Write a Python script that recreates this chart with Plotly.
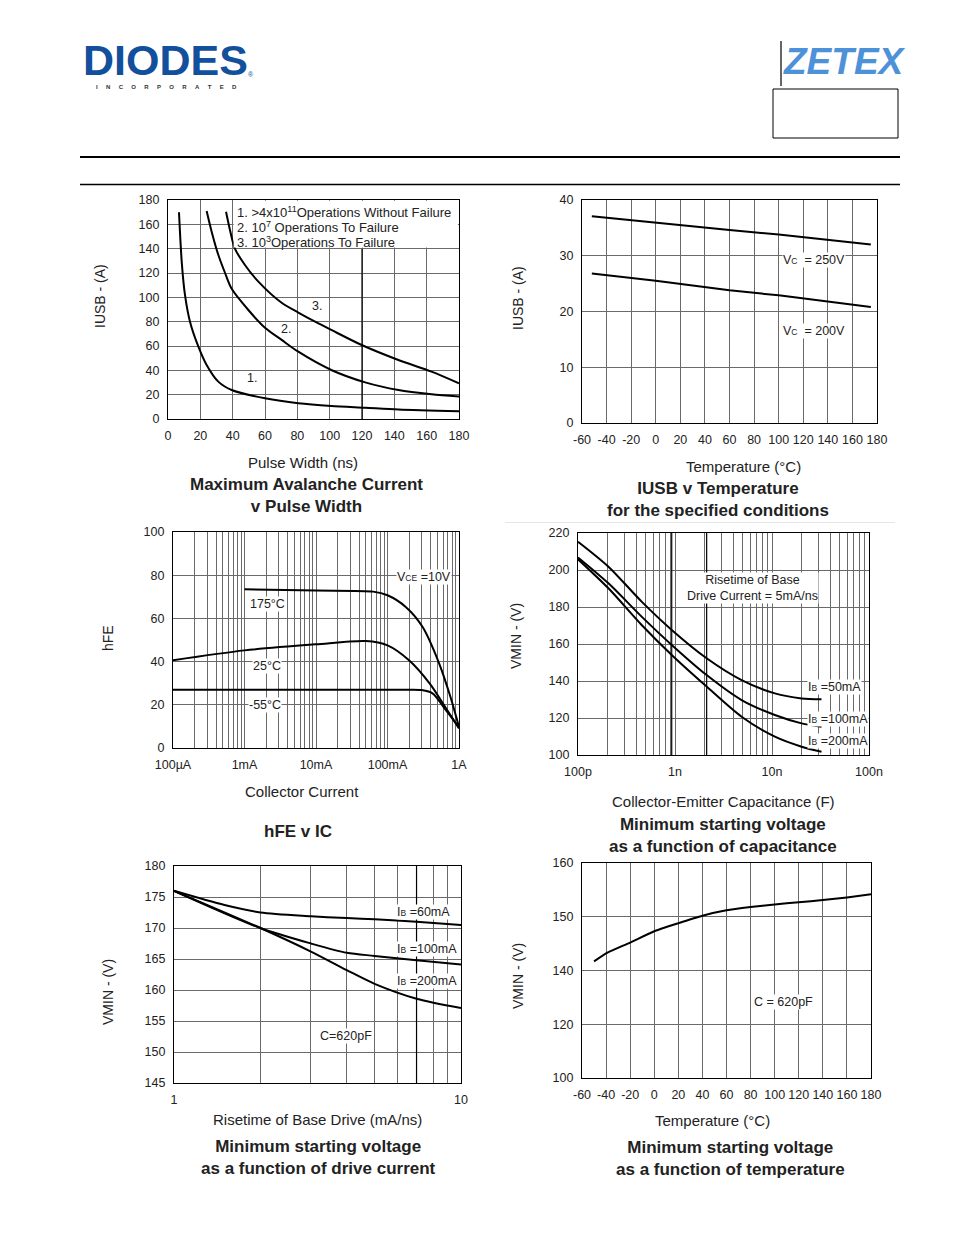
import plotly.graph_objects as go

# The page body has an 8px margin, so the figure is drawn 8px in from the corner.
OFF = 8
W, H = 954 - OFF, 1235 - OFF

# ---------------- data ----------------
# Chart 1: Maximum avalanche current v pulse width
pw_1 = [6.8, 8.5, 10.5, 13.6, 18.8, 23.9, 31.1, 39.4, 60, 80.6, 101, 122, 142.5, 180]
iusb_1 = [169.9, 129, 102, 80, 59.5, 44.4, 30.7, 23.8, 17, 12.9, 10.7, 9.3, 7.9, 6.4]
pw_2 = [23.9, 27, 31.1, 35.3, 39.4, 49.7, 60, 70.3, 80.6, 101, 122, 142.5, 163, 180]
iusb_2 = [171, 154, 135, 120, 107, 89.6, 75, 65, 55.3, 40.3, 30.1, 23.8, 20.3, 18.4]
pw_3 = [35.9, 38.4, 41.4, 47.6, 55.9, 70.3, 80.6, 91, 101, 119.8, 142.5, 163, 180]
iusb_3 = [170.4, 155, 140, 126.6, 112.9, 95.5, 87.5, 80, 73.2, 60.8, 48.5, 38.9, 29.3]
pw_ticks = [0, 20, 40, 60, 80, 100, 120, 140, 160, 180]
iusb1_ticks = [0, 20, 40, 60, 80, 100, 120, 140, 160, 180]

# Chart 2: IUSB v temperature
temp_2 = [-52, 0, 60, 100, 175]
iusb_250v = [37.1, 35.9, 34.6, 33.8, 32.0]
iusb_200v = [26.8, 25.5, 23.8, 22.9, 20.8]
temp_ticks = [-60, -40, -20, 0, 20, 40, 60, 80, 100, 120, 140, 160, 180]
iusb2_ticks = [0, 10, 20, 30, 40]

# Chart 3: hFE v IC
ic_175 = [1e-3, 1e-2, 0.063, 0.1, 0.18, 0.31, 0.53, 0.76, 1.0]
hfe_175 = [73.5, 72.9, 72.4, 70.7, 65.3, 56, 39, 23.6, 9.7]
ic_25 = [1e-4, 1e-3, 1e-2, 0.05, 0.1, 0.2, 0.39, 0.6, 1.0]
hfe_25 = [40.6, 45.2, 48, 49.5, 47.5, 40.6, 29.8, 20.5, 9]
ic_m55 = [1e-4, 0.2, 0.3, 0.43, 0.66, 1.0]
hfe_m55 = [27, 27, 26.8, 25.2, 17.4, 9.7]
hfe_ticks = [0, 20, 40, 60, 80, 100]

# Chart 4: Vmin v capacitance
cap_4 = [1e-10, 2.06e-10, 4.53e-10, 9.25e-10, 2.12e-9, 4.86e-9, 1.07e-8, 2.02e-8, 3.24e-8]
vmin_50 = [215.3, 201.8, 182.9, 167.6, 152.3, 140.5, 133.3, 130.6, 130.1]
vmin_100 = [206.8, 192.8, 174.8, 159.5, 143.2, 129.7, 121.6, 117.1, 115.3]
vmin_200 = [205.8, 190.1, 170.3, 154.1, 137.0, 120.7, 109.9, 104.5, 101.8]
vmin4_ticks = [100, 120, 140, 160, 180, 200, 220]

# Chart 5: Vmin v drive current
drive_60 = [1, 1.5, 2, 3, 4, 5, 7, 10]
vmin_60 = [176, 173.7, 172.5, 171.9, 171.6, 171.4, 171.0, 170.5]
drive_5 = [1, 2, 3, 4, 5, 7, 10]
vmin_ib100 = [176, 170, 167.5, 166.0, 165.5, 164.8, 164.1]
vmin_ib200 = [176, 170, 166.2, 163.2, 161.0, 158.6, 157.1]
vmin5_ticks = [145, 150, 155, 160, 165, 170, 175, 180]

# Chart 6: Vmin v temperature
temp_6 = [-50, -40, -20, 0, 20, 40, 60, 80, 100, 120, 140, 160, 180]
vmin_6 = [141.7, 143.2, 145.2, 147.3, 148.8, 150.2, 151.2, 151.8, 152.3, 152.7, 153.1, 153.6, 154.2]
vmin6_tickvals = [120, 130, 140, 150, 160]
vmin6_ticktext = ['100', '120', '140', '150', '160']

# ---------------- helpers ----------------
FONT = "Liberation Sans, Arial, sans-serif"
GRID = "#6a6a6a"


def px(x):
    return (x - OFF) / W


def py(y):
    return 1 - (y - OFF) / H


def dom(x0, x1, y0, y1):
    return [px(x0), px(x1)], [py(y1), py(y0)]


def lin_ticks(vals):
    return dict(tickmode='array', tickvals=vals, ticktext=[str(v) for v in vals])


def log_ticks(d0, d1, labels):
    vals, text = [], []
    for d in range(d0, d1):
        for m in range(1, 10):
            vals.append(m * 10 ** d)
            text.append(labels.get(d, '') if m == 1 else '')
    vals.append(10 ** d1)
    text.append(labels.get(d1, ''))
    return dict(tickmode='array', tickvals=vals, ticktext=text)


fig = go.Figure()
layout = dict(width=W, height=H, margin=dict(l=0, r=0, t=0, b=0, autoexpand=False),
              paper_bgcolor='white', plot_bgcolor='white', showlegend=False,
              font=dict(family=FONT, size=12, color='#222'))

base_ax = dict(showgrid=True, gridcolor=GRID, gridwidth=1, zeroline=False,
               showline=True, linecolor='black', linewidth=1.3, mirror=True,
               ticks='', tickfont=dict(family=FONT, size=12.5, color='#222'),
               ticklabelstandoff=5, automargin=False)

boxes = [
    (168, 459, 200, 419),  # 1
    (582, 877, 200, 423),  # 2
    (173, 459, 532, 748),  # 3
    (578, 869, 533, 755),  # 4
    (174, 461, 866, 1083),  # 5
    (582, 871, 863, 1078),  # 6
]

xspec = [
    dict(range=[0, 180], **lin_ticks(pw_ticks)),
    dict(range=[-60, 180], **lin_ticks(temp_ticks)),
    dict(type='log', range=[-4, 0], **log_ticks(-4, 0, {-4: '100µA', -3: '1mA', -2: '10mA', -1: '100mA', 0: '1A'})),
    dict(type='log', range=[-10, -7], **log_ticks(-10, -7, {-10: '100p', -9: '1n', -8: '10n', -7: '100n'})),
    dict(type='log', range=[0, 1], **log_ticks(0, 1, {0: '1', 1: '10'})),
    dict(range=[-60, 180], **lin_ticks(temp_ticks)),
]
yspec = [
    dict(range=[0, 180], **lin_ticks(iusb1_ticks)),
    dict(range=[0, 40], **lin_ticks(iusb2_ticks)),
    dict(range=[0, 100], **lin_ticks(hfe_ticks)),
    dict(range=[100, 220], **lin_ticks(vmin4_ticks)),
    dict(range=[145, 180], **lin_ticks(vmin5_ticks)),
    dict(range=[120, 160], tickmode='array', tickvals=vmin6_tickvals, ticktext=vmin6_ticktext),
]

for i, (x0, x1, y0, y1) in enumerate(boxes):
    n = '' if i == 0 else str(i + 1)
    xd, yd = dom(x0, x1, y0, y1)
    layout['xaxis' + n] = dict(base_ax, domain=xd, anchor='y' + n, **xspec[i])
    layout['yaxis' + n] = dict(base_ax, domain=yd, anchor='x' + n, **yspec[i])


def add(x, y, i, smooth=0.8):
    n = '' if i == 1 else str(i)
    line = dict(color='black', width=2)
    if smooth:
        line.update(shape='spline', smoothing=smooth)
    fig.add_trace(go.Scatter(x=x, y=y, mode='lines', xaxis='x' + n, yaxis='y' + n,
                             line=line, hoverinfo='skip'))


add(pw_1, iusb_1, 1)
add(pw_2, iusb_2, 1)
add(pw_3, iusb_3, 1)
add(temp_2, iusb_250v, 2, 0)
add(temp_2, iusb_200v, 2, 0)
add(ic_175, hfe_175, 3)
add(ic_25, hfe_25, 3)
add(ic_m55, hfe_m55, 3)
add(cap_4, vmin_50, 4)
add(cap_4, vmin_100, 4)
add(cap_4, vmin_200, 4)
add(drive_60, vmin_60, 5)
add(drive_5, vmin_ib100, 5)
add(drive_5, vmin_ib200, 5)
add(temp_6, vmin_6, 6, 0.5)

shapes = []
# white legend area in chart 1
shapes.append(dict(type='rect', xref='x', yref='y', x0=40.6, x1=179.4, y0=141, y1=179.4,
                   fillcolor='white', line=dict(width=0), layer='above'))
# darker gridlines
shapes.append(dict(type='line', xref='x', yref='y', x0=120, x1=120, y0=0, y1=140,
                   line=dict(color='black', width=1.2), layer='above'))
for xv in (9.25e-10, 2.12e-9):
    shapes.append(dict(type='line', xref='x4', yref='y4', x0=xv, x1=xv, y0=100, y1=220,
                       line=dict(color='black', width=1.2), layer='above'))
shapes.append(dict(type='line', xref='x5', yref='y5', x0=7, x1=7, y0=145, y1=180,
                   line=dict(color='black', width=1.2), layer='above'))

# header rules and boxes
shapes.append(dict(type='line', xref='paper', yref='paper', x0=px(80), x1=px(900), y0=py(157), y1=py(157),
                   line=dict(color='black', width=2)))
shapes.append(dict(type='line', xref='paper', yref='paper', x0=px(80), x1=px(900), y0=py(184.5), y1=py(184.5),
                   line=dict(color='black', width=1.5)))
shapes.append(dict(type='line', xref='paper', yref='paper', x0=px(781), x1=px(781), y0=py(41), y1=py(86),
                   line=dict(color='#333', width=1.5)))
shapes.append(dict(type='rect', xref='paper', yref='paper', x0=px(773), x1=px(898), y0=py(138), y1=py(89),
                   line=dict(color='black', width=1)))
shapes.append(dict(type='line', xref='paper', yref='paper', x0=px(505), x1=px(895), y0=py(522.5), y1=py(522.5),
                   line=dict(color='#e6e6e6', width=1)))
layout['shapes'] = shapes

ann = []


def text(x, y, s, size=12.5, anchor='left', bold=False, angle=0, bg=None, color='#222', family=FONT):
    d = dict(xref='paper', yref='paper', x=px(x), y=py(y), text=('<b>%s</b>' % s) if bold else s,
             showarrow=False, xanchor=anchor, yanchor='middle', textangle=angle,
             font=dict(family=family, size=size, color=color), borderpad=0)
    if bg:
        d['bgcolor'] = bg
    ann.append(d)


SUB = "<span style='font-size:8.5px'>%s</span>"

# chart 1 texts
text(236, 211.5, "1. >4x10<sup>11</sup>Operations Without Failure", 13)
text(236, 226.5, "2. 10<sup>7</sup> Operations To Failure", 13)
text(236, 241.5, "3. 10<sup>3</sup>Operations To Failure", 13)
text(252, 378, "1.", 12.5, 'center')
text(286, 329, "2.", 12.5, 'center')
text(316.5, 306, "3.", 12.5, 'center')
text(303, 462, "Pulse Width (ns)", 15, 'center')
text(306, 495.5, "Maximum Avalanche Current<br>v Pulse Width", 17, 'center', bold=True)
text(100, 296, "IUSB - (A)", 14, 'center', angle=-90)

# chart 2 texts
text(782, 260, "V" + SUB % "C" + "  = 250V", 12.5, bg='white')
text(782, 331, "V" + SUB % "C" + "  = 200V", 12.5, bg='white')
text(743, 466, "Temperature (°C)", 15, 'center')
text(718, 499.5, "IUSB v Temperature<br>for the specified conditions", 17, 'center', bold=True)
text(518, 298, "IUSB - (A)", 14, 'center', angle=-90)

# chart 3 texts
text(396, 577, "V" + SUB % "CE" + " =10V", 12.5, bg='white')
text(249, 604, "175°C", 12.5, bg='white')
text(252, 666, "25°C", 12.5, bg='white')
text(248, 705, "-55°C", 12.5, bg='white')
text(302, 791, "Collector Current", 15, 'center')
text(298, 831, "hFE v IC", 17, 'center', bold=True)
text(108, 638, "hFE", 14, 'center', angle=-90)

# chart 4 texts
text(686, 588.5, "Risetime of Base<br>Drive Current = 5mA/ns", 12.5, bg='white')
text(807, 687, "I" + SUB % "B" + " =50mA", 12.5, bg='white')
text(807, 719, "I" + SUB % "B" + " =100mA", 12.5, bg='white')
text(807, 741, "I" + SUB % "B" + " =200mA", 12.5, bg='white')
text(723, 801, "Collector-Emitter Capacitance (F)", 15, 'center')
text(723, 835, "Minimum starting voltage<br>as a function of capacitance", 17, 'center', bold=True)
text(516, 636, "VMIN - (V)", 14, 'center', angle=-90)

# chart 5 texts
text(396, 912, "I" + SUB % "B" + " =60mA", 12.5, bg='white')
text(396, 949, "I" + SUB % "B" + " =100mA", 12.5, bg='white')
text(396, 981, "I" + SUB % "B" + " =200mA", 12.5, bg='white')
text(319, 1036, "C=620pF", 12.5, bg='white')
text(317, 1119, "Risetime of Base Drive (mA/ns)", 15, 'center')
text(318, 1157, "Minimum starting voltage<br>as a function of drive current", 17, 'center', bold=True)
text(108, 992, "VMIN - (V)", 14, 'center', angle=-90)

# chart 6 texts
text(753, 1002, "C = 620pF", 12.5, bg='white')
text(712, 1120, "Temperature (°C)", 15, 'center')
text(730, 1158.5, "Minimum starting voltage<br>as a function of temperature", 17, 'center', bold=True)
text(518, 976, "VMIN - (V)", 14, 'center', angle=-90)

# logos
text(165, 59.5, "<b>DIODES</b>", 43, 'center', color='#124f9c')
NB = "\u00a0"
text(166, 87, "<b>" + (NB * 5).join("INCORPORATED") + "</b>", 6, 'center', color='#333')
text(251, 75, "®", 7, 'center', color='#124f9c')
text(844, 61, "<b><i>ZETEX</i></b>", 37, 'center', color='#4d91d8',
     family="Liberation Sans Narrow, Liberation Sans, Arial, sans-serif")

layout['annotations'] = ann
fig.update_layout(**layout)
fig.write_html("out.html")
